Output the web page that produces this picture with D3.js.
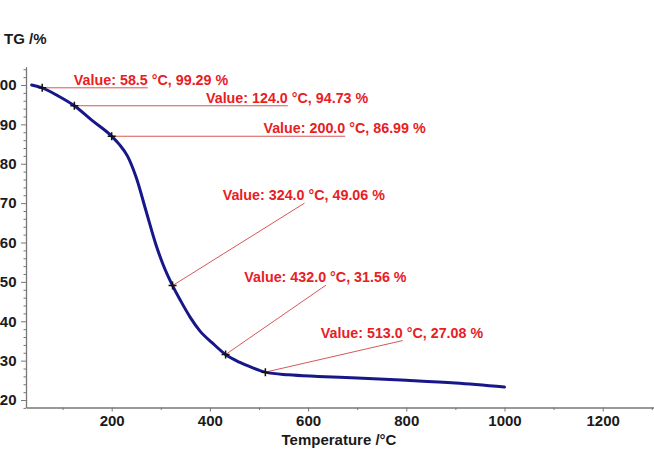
<!DOCTYPE html>
<html>
<head>
<meta charset="utf-8">
<script src="https://cdn.jsdelivr.net/npm/d3@7"></script>
<style>
  body { margin: 0; background: #fff; }
  text { font-family: "Liberation Sans", Arial, sans-serif; }
</style>
</head>
<body>
<script>

    // TG curve (temperature in degC, mass in %)
    const temps = [37, 58.5, 90, 124, 160, 200, 215, 232, 250, 270, 290, 305, 324, 340, 360, 380, 405, 432, 460, 485, 513, 560, 620, 700, 800, 900, 1000];
    const mass = [100.0, 99.29, 97.3, 94.73, 91.0, 86.99, 85.0, 82.0, 76.5, 68.0, 59.5, 54.3, 49.06, 45.3, 41.0, 37.5, 34.5, 31.56, 29.6, 28.3, 27.08, 26.4, 26.0, 25.6, 25.0, 24.3, 23.3];

    // marked points
    const markTemps = [58.5, 124.0, 200.0, 324.0, 432.0, 513.0];
    const markMass = [99.29, 94.73, 86.99, 49.06, 31.56, 27.08];

    const xTicks = [200, 400, 600, 800, 1000, 1200];
    const yTicks = [20, 30, 40, 50, 60, 70, 80, 90, 100];

    // where each label sits, in axis units (text start, leader end)
    const labelTemp = [123, 392, 509, 426, 470, 626];
    const labelMass = [99.29, 94.73, 86.99, 70.0, 49.2, 35.1];

    const measurements = {
        width: 654,
        height: 455
    };

    let svg = d3.select('body')
        .append('svg')
        .attr('width', measurements.width)
        .attr('height', measurements.height);

    svg.append('rect')
        .attr('width', measurements.width)
        .attr('height', measurements.height)
        .attr('fill', '#fff');

    let x = d3.scaleLinear()
        .domain([25.5, 1310])
        .range([26, 656.7]);

    let y = d3.scaleLinear()
        .domain([18.1, 104.65])
        .range([407.5, 66.7]);

    // minor ticks first
    let xMinor = d3.range(100, 1400, 200);
    let yMinor = d3.range(18, 105, 2).filter(d => d % 10 !== 0);

    svg.append('g')
        .attr('transform', 'translate(0,407.5)')
        .call(d3.axisBottom(x).tickValues(xMinor).tickSize(2.5).tickFormat(''))
        .call(g => g.select('.domain').remove())
        .selectAll('line').attr('stroke', '#777');

    svg.append('g')
        .attr('transform', 'translate(26,0)')
        .call(d3.axisLeft(y).tickValues(yMinor).tickSize(2.5).tickFormat(''))
        .call(g => g.select('.domain').remove())
        .selectAll('line').attr('stroke', '#777');

    // main axes
    let xAxis = svg.append('g')
        .attr('transform', 'translate(0,407.5)')
        .call(d3.axisBottom(x).tickValues(xTicks).tickFormat(d3.format('d'))
            .tickSize(4).tickSizeOuter(0).tickPadding(4));

    let yAxis = svg.append('g')
        .attr('transform', 'translate(26,0)')
        .call(d3.axisLeft(y).tickValues(yTicks).tickFormat(d3.format('d'))
            .tickSize(5).tickSizeOuter(0).tickPadding(4.5));

    [xAxis, yAxis].forEach(function(a) {
        a.select('.domain').attr('stroke', '#777').attr('stroke-width', 1.3);
        a.selectAll('line').attr('stroke', '#777');
        a.selectAll('text')
            .attr('fill', '#1a1a1a')
            .style('font-size', '15px')
            .style('font-weight', 'bold')
            .style('font-family', '"Liberation Sans", Arial, sans-serif');
    });

    // axis titles
    svg.append('text')
        .attr('x', 4)
        .attr('y', 44)
        .attr('fill', '#1a1a1a')
        .style('font-size', '15px')
        .style('font-weight', 'bold')
        .text('TG /%');

    svg.append('text')
        .attr('x', 339)
        .attr('y', 445)
        .attr('text-anchor', 'middle')
        .attr('fill', '#1a1a1a')
        .style('font-size', '15px')
        .style('font-weight', 'bold')
        .text('Temperature /°C');

    // curve
    let line = d3.line()
        .x((d, i) => x(temps[i]))
        .y(d => y(d))
        .curve(d3.curveMonotoneX);

    svg.append('path')
        .datum(mass)
        .attr('fill', 'none')
        .attr('stroke', '#17178a')
        .attr('stroke-width', 3)
        .attr('stroke-linejoin', 'round')
        .attr('stroke-linecap', 'round')
        .attr('d', line);

    // labels and leader lines
    let leaders = svg.append('g');
    let labels = svg.append('g');

    markTemps.forEach(function(t, i) {
        let lx = x(labelTemp[i]);
        let ly = y(labelMass[i]);
        let txt = labels.append('text')
            .attr('x', lx)
            .attr('y', ly - 3)
            .attr('fill', '#e8201f')
            .style('font-size', '14.3px')
            .style('font-weight', 'bold');
        let first = txt.append('tspan')
            .text('Value: ' + t.toFixed(1));
        txt.append('tspan')
            .text(' °C, ' + markMass[i].toFixed(2) + ' %');

        let w = first.node().getComputedTextLength();

        leaders.append('line')
            .attr('x1', x(t))
            .attr('y1', y(markMass[i]))
            .attr('x2', lx + w)
            .attr('y2', ly)
            .attr('stroke', '#d65757')
            .attr('stroke-width', 1);
    });

    // cross markers
    let crosses = svg.append('g');
    markTemps.forEach(function(t, i) {
        let cx = x(t), cy = y(markMass[i]);
        crosses.append('path')
            .attr('d', 'M' + (cx - 4) + ',' + cy + 'H' + (cx + 4) + 'M' + cx + ',' + (cy - 4) + 'V' + (cy + 4))
            .attr('stroke', '#111')
            .attr('stroke-width', 1.5);
    });

</script>
</body>
</html>
